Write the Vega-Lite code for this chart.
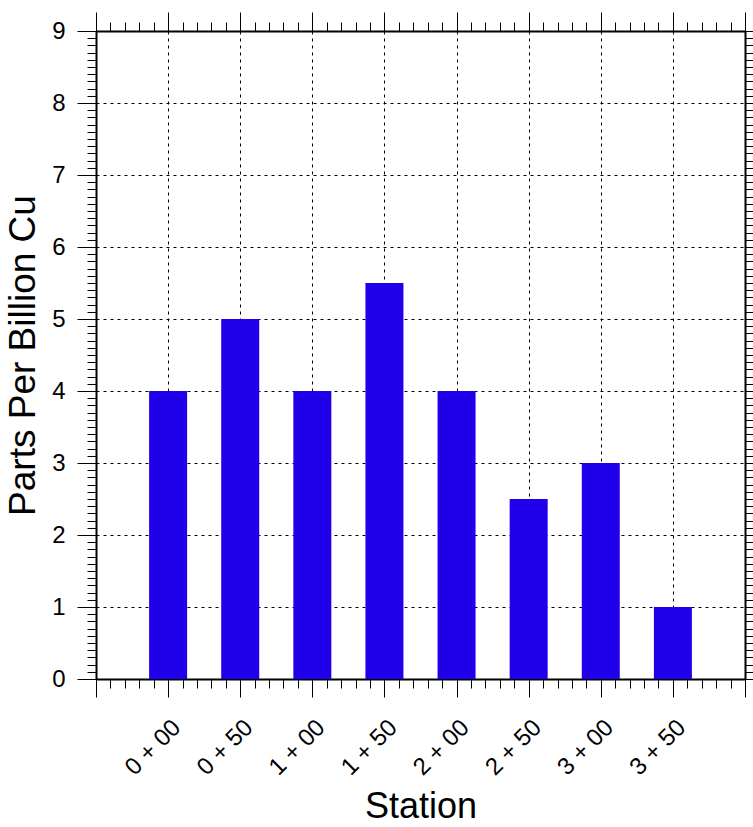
{
  "$schema": "https://vega.github.io/schema/vega-lite/v6.json",
  "width": 649,
  "height": 648,
  "autosize": "none",
  "padding": {"left": 96, "top": 31, "right": 8, "bottom": 148},
  "background": "white",
  "config": {
    "view": {"stroke": null},
    "axis": {
      "grid": false,
      "domainColor": "black",
      "domainWidth": 2,
      "tickColor": "black",
      "tickWidth": 1,
      "labelColor": "black",
      "labelFont": "Liberation Sans",
      "titleFont": "Liberation Sans",
      "titleColor": "black",
      "titleFontWeight": "normal",
      "gridColor": "black",
      "gridOpacity": 1,
      "gridWidth": 1,
      "gridDash": [3, 4],
      "labelFlush": false,
      "labelOverlap": false
    }
  },
  "data": {
    "values": [
      {"station": "0 + 00", "feet": 0, "ppb": 4},
      {"station": "0 + 50", "feet": 50, "ppb": 5},
      {"station": "1 + 00", "feet": 100, "ppb": 4},
      {"station": "1 + 50", "feet": 150, "ppb": 5.5},
      {"station": "2 + 00", "feet": 200, "ppb": 4},
      {"station": "2 + 50", "feet": 250, "ppb": 2.5},
      {"station": "3 + 00", "feet": 300, "ppb": 3},
      {"station": "3 + 50", "feet": 350, "ppb": 1}
    ]
  },
  "layer": [
    {
      "mark": {"type": "bar", "size": 38, "color": "#1F00E8"},
      "encoding": {
        "x": {
          "field": "feet", "type": "quantitative",
          "scale": {"domain": [-50, 400], "nice": false, "zero": false, "padding": 0},
          "axis": {
            "orient": "bottom",
            "values": [-50, 0, 50, 100, 150, 200, 250, 300, 350, 400],
            "tickSize": 18,
            "grid": true,
            "domain": true,
            "labelAngle": -45,
            "labelFontSize": 24,
            "labelPadding": 18,
            "labelExpr": "datum.value < 0 || datum.value > 350 ? '' : floor(datum.value / 100) + ' + ' + (datum.value % 100 == 0 ? '00' : '50')",
            "title": "Station",
            "titleFontSize": 36,
            "titlePadding": 10
          }
        },
        "y": {
          "field": "ppb", "type": "quantitative",
          "scale": {"domain": [0, 9], "nice": false, "padding": 0},
          "axis": {
            "orient": "left",
            "values": [0, 1, 2, 3, 4, 5, 6, 7, 8, 9],
            "tickSize": 19,
            "grid": true,
            "domain": true,
            "labelFontSize": 24,
            "labelPadding": 12,
            "title": "Parts Per Billion Cu",
            "titleFontSize": 37,
            "titlePadding": 9
          }
        }
      }
    },
    {
      "mark": {"type": "bar", "size": 38, "opacity": 0},
      "encoding": {
        "x": {
          "field": "feet", "type": "quantitative",
          "axis": {
            "orient": "bottom",
            "values": [-50,-40,-30,-20,-10,0,10,20,30,40,50,60,70,80,90,100,110,120,130,140,150,160,170,180,190,200,210,220,230,240,250,260,270,280,290,300,310,320,330,340,350,360,370,380,390,400],
            "tickSize": 9, "labels": false, "domain": false, "grid": false, "title": null
          }
        },
        "y": {
          "field": "ppb", "type": "quantitative",
          "axis": {
            "orient": "left",
            "values": [0,0.1,0.2,0.3,0.4,0.5,0.6,0.7,0.8,0.9,1,1.1,1.2,1.3,1.4,1.5,1.6,1.7,1.8,1.9,2,2.1,2.2,2.3,2.4,2.5,2.6,2.7,2.8,2.9,3,3.1,3.2,3.3,3.4,3.5,3.6,3.7,3.8,3.9,4,4.1,4.2,4.3,4.4,4.5,4.6,4.7,4.8,4.9,5,5.1,5.2,5.3,5.4,5.5,5.6,5.7,5.8,5.9,6,6.1,6.2,6.3,6.4,6.5,6.6,6.7,6.8,6.9,7,7.1,7.2,7.3,7.4,7.5,7.6,7.7,7.8,7.9,8,8.1,8.2,8.3,8.4,8.5,8.6,8.7,8.8,8.9,9],
            "tickSize": 9, "labels": false, "domain": false, "grid": false, "title": null
          }
        }
      }
    },
    {
      "mark": {"type": "bar", "size": 38, "opacity": 0},
      "encoding": {
        "x": {
          "field": "feet", "type": "quantitative",
          "axis": {
            "orient": "top",
            "values": [-50, 0, 50, 100, 150, 200, 250, 300, 350, 400],
            "tickSize": 19, "labels": false, "domain": true, "grid": false, "title": null
          }
        },
        "y": {
          "field": "ppb", "type": "quantitative",
          "axis": {
            "orient": "right",
            "values": [0, 1, 2, 3, 4, 5, 6, 7, 8, 9],
            "tickSize": 19, "labels": false, "domain": true, "grid": false, "title": null
          }
        }
      }
    },
    {
      "mark": {"type": "bar", "size": 38, "opacity": 0},
      "encoding": {
        "x": {
          "field": "feet", "type": "quantitative",
          "axis": {
            "orient": "top",
            "values": [-50,-40,-30,-20,-10,0,10,20,30,40,50,60,70,80,90,100,110,120,130,140,150,160,170,180,190,200,210,220,230,240,250,260,270,280,290,300,310,320,330,340,350,360,370,380,390,400],
            "tickSize": 9, "labels": false, "domain": false, "grid": false, "title": null
          }
        },
        "y": {
          "field": "ppb", "type": "quantitative",
          "axis": {
            "orient": "right",
            "values": [0,0.1,0.2,0.3,0.4,0.5,0.6,0.7,0.8,0.9,1,1.1,1.2,1.3,1.4,1.5,1.6,1.7,1.8,1.9,2,2.1,2.2,2.3,2.4,2.5,2.6,2.7,2.8,2.9,3,3.1,3.2,3.3,3.4,3.5,3.6,3.7,3.8,3.9,4,4.1,4.2,4.3,4.4,4.5,4.6,4.7,4.8,4.9,5,5.1,5.2,5.3,5.4,5.5,5.6,5.7,5.8,5.9,6,6.1,6.2,6.3,6.4,6.5,6.6,6.7,6.8,6.9,7,7.1,7.2,7.3,7.4,7.5,7.6,7.7,7.8,7.9,8,8.1,8.2,8.3,8.4,8.5,8.6,8.7,8.8,8.9,9],
            "tickSize": 9, "labels": false, "domain": false, "grid": false, "title": null
          }
        }
      }
    }
  ],
  "resolve": {"axis": {"x": "independent", "y": "independent"}}
}
